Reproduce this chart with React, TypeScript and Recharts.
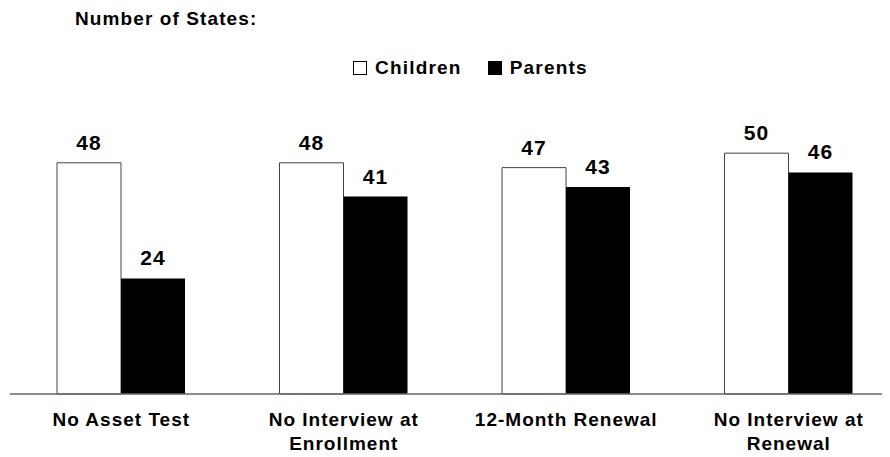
import { Bar, BarChart, LabelList, XAxis, YAxis } from "recharts"

const categories = ["No Asset Test", "No Interview at\nEnrollment", "12-Month Renewal", "No Interview at\nRenewal"]
const children = [48, 48, 47, 50]
const parents = [24, 41, 43, 46]
const seriesNames = ["Children", "Parents"]

const data = categories.map((name, i) => ({ name, children: children[i], parents: parents[i] }))

const FONT = "Arial, 'Liberation Sans', sans-serif"

function CategoryTick(props: any) {
  const { x, y, payload } = props
  const lines = String(payload.value).split("\n")
  return (
    <text x={x} y={y} textAnchor="middle" fontFamily={FONT} fontWeight="bold" fontSize={19} letterSpacing={1} fill="#000">
      {lines.map((line, i) => (
        <tspan key={i} x={x} dy={i === 0 ? 32 : 24}>
          {line}
        </tspan>
      ))}
    </text>
  )
}

function ChartLegend() {
  const item = (label: string, fill: string, gap: number) => (
    <span style={{ display: "inline-flex", alignItems: "center", marginRight: gap }}>
      <span style={{ width: 12, height: 12, background: fill, border: "1px solid #000", marginRight: 8 }} />
      {label}
    </span>
  )
  return (
    <div
      style={{
        position: "absolute",
        left: 345,
        top: 49,
        fontFamily: FONT,
        fontWeight: "bold",
        fontSize: 19,
        letterSpacing: 1.2,
        display: "flex",
        alignItems: "center",
      }}
    >
      {item(seriesNames[0], "#fff", 26)}
      {item(seriesNames[1], "#000", 0)}
    </div>
  )
}

export default function App() {
  return (
    <div style={{ position: "relative", width: 882, height: 449, overflow: "hidden", background: "#fff" }}>
      <div
        style={{
          position: "absolute",
          left: 67,
          top: 0,
          fontFamily: FONT,
          fontWeight: "bold",
          fontSize: 19,
          letterSpacing: 1.1,
        }}
      >
        Number of States:
      </div>
      <ChartLegend />
      <BarChart
        width={892}
        height={449}
        data={data}
        margin={{ top: 97, right: 0, bottom: 0, left: 2 }}
        barGap={0}
        barSize={64}
      >
        <XAxis
          dataKey="name"
          axisLine={{ stroke: "#666", strokeWidth: 1.5 }}
          tickLine={false}
          tickSize={0}
          tickMargin={0}
          height={63}
          interval={0}
          tick={<CategoryTick />}
        />
        <YAxis hide domain={[0, 60]} />
        <Bar dataKey="children" name={seriesNames[0]} fill="#fff" stroke="#444" strokeWidth={1} isAnimationActive={false}>
          <LabelList dataKey="children" position="top" offset={13} fill="#000" fontFamily={FONT} fontWeight="bold" fontSize={21} letterSpacing={1} />
        </Bar>
        <Bar dataKey="parents" name={seriesNames[1]} fill="#000" isAnimationActive={false}>
          <LabelList dataKey="parents" position="top" offset={13} fill="#000" fontFamily={FONT} fontWeight="bold" fontSize={21} letterSpacing={1} />
        </Bar>
      </BarChart>
    </div>
  )
}
